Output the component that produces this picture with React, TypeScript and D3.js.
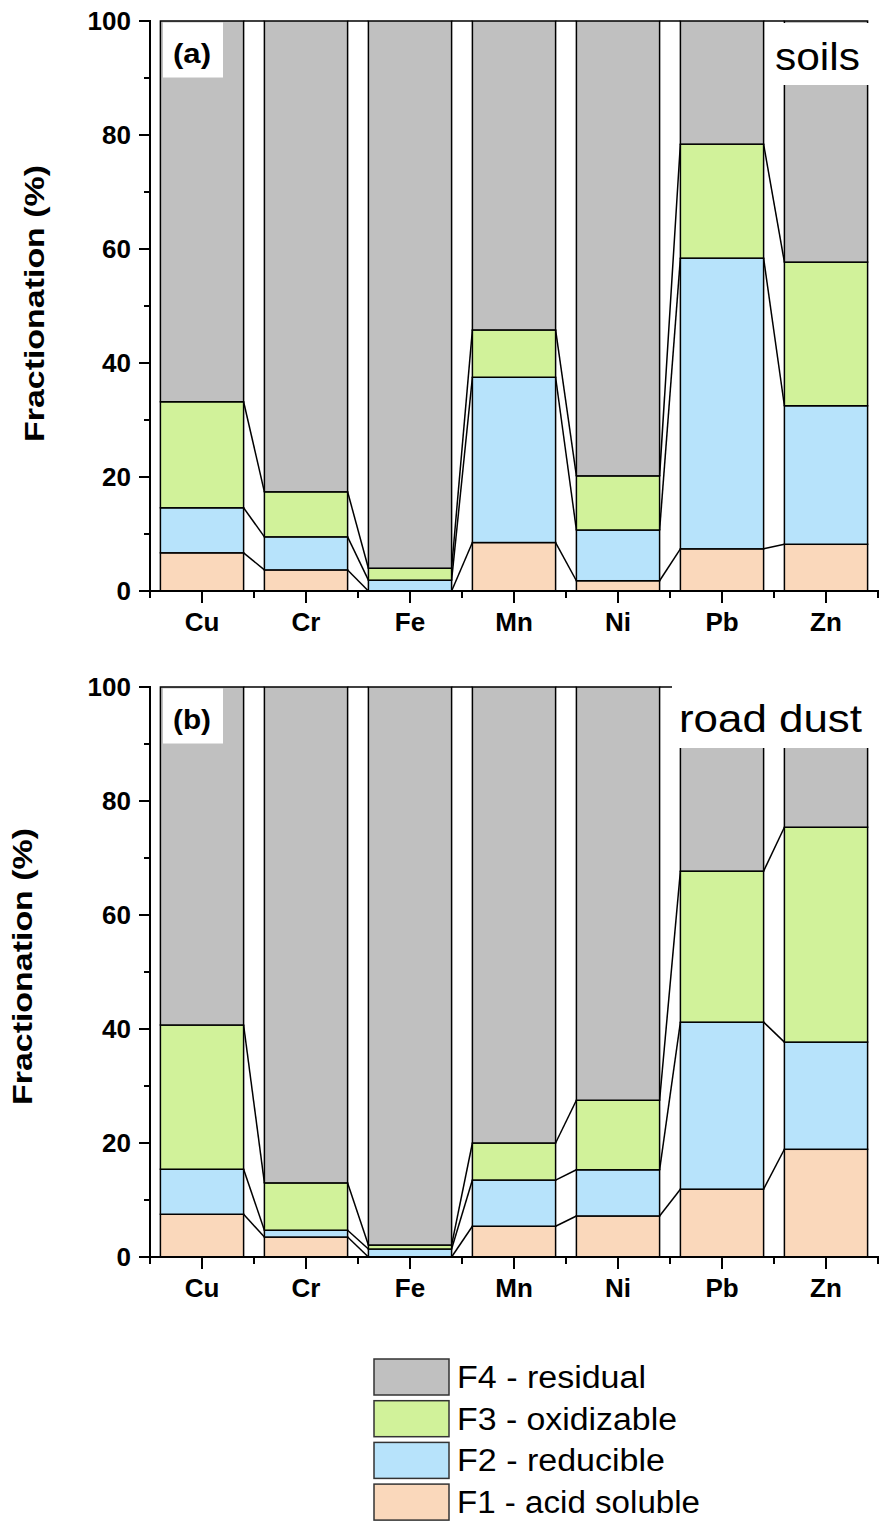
import React from 'react';
import * as d3 from 'd3';

const elements = ['Cu', 'Cr', 'Fe', 'Mn', 'Ni', 'Pb', 'Zn'];
const fractions = ['F1', 'F2', 'F3', 'F4'];
const legendLabels = ['F4 - residual', 'F3 - oxidizable', 'F2 - reducible', 'F1 - acid soluble'];
const legendWidths = [189, 220, 208, 243];
const colors: Record<string, string> = { F1: '#fad8bb', F2: '#b7e3fb', F3: '#d1f29a', F4: '#c0c0c0' };

// soils, percent per fraction
const soilF1 = [6.7, 3.7, 0.0, 8.5, 1.8, 7.4, 8.2];
const soilF2 = [7.9, 5.8, 1.9, 29.0, 8.9, 51.0, 24.3];
const soilF3 = [18.6, 7.9, 2.1, 8.3, 9.5, 20.0, 25.2];
// road dust
const dustF1 = [7.5, 3.5, 0.0, 5.4, 7.2, 11.9, 18.9];
const dustF2 = [7.9, 1.2, 1.4, 8.1, 8.1, 29.3, 18.8];
const dustF3 = [25.3, 8.3, 0.7, 6.5, 12.2, 26.5, 37.7];

const yTicks = [0, 20, 40, 60, 80, 100];
const yMinor = [10, 30, 50, 70, 90];

const font = 'Arial, "Liberation Sans", sans-serif';

const makeRows = (f1: number[], f2: number[], f3: number[]) =>
  elements.map((el, i) => ({ el, F1: f1[i], F2: f2[i], F3: f3[i], F4: 100 - f1[i] - f2[i] - f3[i] }));

const x = d3.scaleBand<string>().domain(elements).range([150, 878]).paddingInner(0.2).paddingOuter(0.1);

interface PanelProps {
  rows: ReturnType<typeof makeRows>;
  top: number;
  bottom: number;
  tag: string;
  title: string;
  titleLen: number;
  titleY: number;
  titleBox: [number, number, number, number];
  titleX: number;
  ylabelX: number;
  ylabelY: number;
}

const Panel: React.FC<PanelProps> = (p) => {
  const { rows, top, bottom, tag, title, titleBox, titleX } = p;
  const y = d3.scaleLinear().domain([0, 100]).range([bottom, top]);
  const series = d3.stack<any>().keys(fractions)(rows);
  const bw = x.bandwidth();
  const step = x.step();

  // connector lines between neighbouring bars at each cumulative level
  const connectors: JSX.Element[] = [];
  series.forEach((s, k) => {
    for (let i = 0; i < elements.length - 1; i++) {
      const x1 = (x(elements[i]) as number) + bw;
      const x2 = x(elements[i + 1]) as number;
      connectors.push(
        <line key={`c${k}-${i}`} x1={x1} x2={x2} y1={y(s[i][1])} y2={y(s[i + 1][1])}
          stroke="#000" strokeWidth={1.5} />
      );
    }
  });

  return (
    <g>
      {connectors}
      {series.map((s) => (
        <g key={s.key}>
          {s.map((d, i) => (
            <rect key={i} x={x(elements[i])} width={bw} y={y(d[1])} height={y(d[0]) - y(d[1])}
              fill={colors[s.key]} stroke="#000" strokeWidth={1.5} />
          ))}
        </g>
      ))}
      {/* label boxes */}
      <rect x={163} y={top + 1.5} width={60} height={55} fill="#fff" />
      <text x={173} y={top + 42} fontFamily={font} fontWeight="bold" fontSize={27}
        textLength={38} lengthAdjust="spacingAndGlyphs">{tag}</text>
      <rect x={titleBox[0]} y={titleBox[1]} width={titleBox[2]} height={titleBox[3]} fill="#fff" />
      <text x={titleX} y={p.titleY} fontFamily={font} fontSize={38}
        textLength={p.titleLen} lengthAdjust="spacingAndGlyphs">{title}</text>

      {/* y axis */}
      <line x1={150} x2={150} y1={top - 1} y2={bottom + 1} stroke="#000" strokeWidth={2} />
      {yTicks.map((t) => (
        <g key={t}>
          <line x1={139} x2={150} y1={y(t)} y2={y(t)} stroke="#000" strokeWidth={2} />
          <text x={131} y={y(t) + 9} textAnchor="end" fontFamily={font} fontWeight="bold" fontSize={26}>{t}</text>
        </g>
      ))}
      {yMinor.map((t) => (
        <line key={t} x1={144} x2={150} y1={y(t)} y2={y(t)} stroke="#000" strokeWidth={2} />
      ))}
      <text transform={`translate(${p.ylabelX},${p.ylabelY}) rotate(-90)`} x={-138.5}
        fontFamily={font} fontWeight="bold" fontSize={27}
        textLength={277} lengthAdjust="spacingAndGlyphs">Fractionation (%)</text>

      {/* x axis */}
      <line x1={149} x2={879} y1={bottom} y2={bottom} stroke="#000" strokeWidth={2} />
      {elements.map((el) => {
        const cx = (x(el) as number) + bw / 2;
        return (
          <g key={el}>
            <line x1={cx} x2={cx} y1={bottom} y2={bottom + 12} stroke="#000" strokeWidth={2} />
            <text x={cx} y={bottom + 40} textAnchor="middle" fontFamily={font} fontWeight="bold" fontSize={26}>{el}</text>
          </g>
        );
      })}
      {d3.range(elements.length + 1).map((k) => (
        <line key={k} x1={150 + k * step} x2={150 + k * step} y1={bottom} y2={bottom + 7} stroke="#000" strokeWidth={2} />
      ))}
    </g>
  );
};

export default function App() {
  const soils = makeRows(soilF1, soilF2, soilF3);
  const dust = makeRows(dustF1, dustF2, dustF3);
  const legendTop = 1359;
  const legendStep = 41.7;
  return (
    <svg width={883} height={1521} style={{ position: 'absolute', left: 0, top: 0, background: '#fff' }}>
      <rect width={883} height={1521} fill="#fff" />
      <Panel rows={soils} top={21} bottom={591} tag="(a)" title="soils" titleLen={85} titleY={70}
        titleBox={[766, 23, 110, 62]} titleX={775} ylabelX={44} ylabelY={303.5} />
      <Panel rows={dust} top={687} bottom={1257} tag="(b)" title="road dust" titleLen={183} titleY={732}
        titleBox={[672, 680, 206, 68]} titleX={679} ylabelX={32} ylabelY={966.5} />
      {legendLabels.map((lab, i) => {
        const key = fractions[3 - i];
        const ty = legendTop + i * legendStep;
        return (
          <g key={key}>
            <rect x={374} y={ty} width={75} height={36} fill={colors[key]} stroke="#333" strokeWidth={1.5} />
            <text x={457} y={ty + 29} fontFamily={font} fontSize={31}
              textLength={legendWidths[i]} lengthAdjust="spacingAndGlyphs">{lab}</text>
          </g>
        );
      })}
    </svg>
  );
}
